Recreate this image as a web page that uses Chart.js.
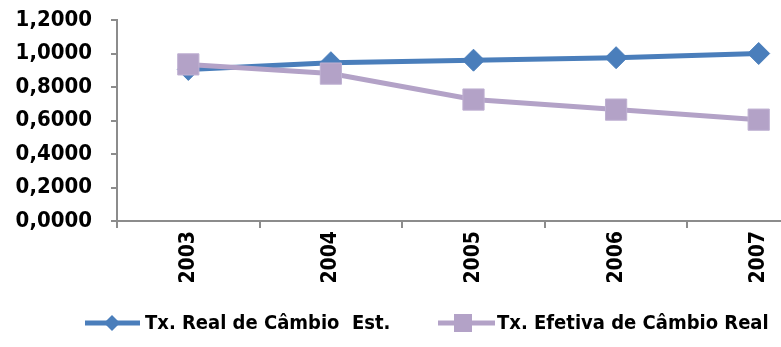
<!DOCTYPE html>
<html>
<head>
<meta charset="utf-8">
<script src="https://cdn.jsdelivr.net/npm/chart.js@4/dist/chart.umd.min.js"></script>
<style>
  html, body { margin: 0; padding: 0; background: #fff; overflow: hidden; }
  #wrap { width: 846px; height: 347px; }
</style>
</head>
<body>
<div id="wrap"><canvas id="c" width="846" height="347"></canvas></div>
<script>
// Exchange-rate indices, 2003–2007
const years = ['2003', '2004', '2005', '2006', '2007'];
const realRate = [0.905, 0.945, 0.960, 0.975, 1.000];
const effectiveRate = [0.935, 0.880, 0.725, 0.665, 0.605];
const seriesNames = ['Tx. Real de Câmbio  Est.', 'Tx. Efetiva de Câmbio Real'];

const BLUE = '#4a7ebb';
const LILAC = '#b3a2c7';
const AXIS = '#8c8c8c';
const FONT = '"DejaVu Sans Condensed", "DejaVu Sans", sans-serif';

// Bottom legend: a line sample with the marker in its middle, then the label
const bottomLegend = {
  id: 'bottomLegend',
  afterDraw(chart) {
    const ctx = chart.ctx;
    const y = 323;
    const items = [
      { x0: 85, x1: 140, mx: 112, color: BLUE, shape: 'diamond', text: seriesNames[0], tx: 145 },
      { x0: 438, x1: 495, mx: 463, color: LILAC, shape: 'square', text: seriesNames[1], tx: 497 }
    ];
    ctx.save();
    items.forEach(it => {
      ctx.strokeStyle = it.color;
      ctx.lineWidth = 5;
      ctx.beginPath();
      ctx.moveTo(it.x0, y);
      ctx.lineTo(it.x1, y);
      ctx.stroke();
      ctx.fillStyle = it.color;
      ctx.beginPath();
      if (it.shape === 'diamond') {
        ctx.moveTo(it.mx, y - 8);
        ctx.lineTo(it.mx + 8, y);
        ctx.lineTo(it.mx, y + 8);
        ctx.lineTo(it.mx - 8, y);
        ctx.closePath();
      } else {
        ctx.rect(it.mx - 9, y - 9, 18, 18);
      }
      ctx.fill();
      ctx.fillStyle = '#000';
      ctx.font = 'bold 20px ' + FONT;
      ctx.textBaseline = 'middle';
      ctx.textAlign = 'left';
      ctx.fillText(it.text, it.tx, y + 1);
    });
    ctx.restore();
  }
};

new Chart(document.getElementById('c'), {
  type: 'line',
  data: {
    labels: years,
    datasets: [
      {
        label: seriesNames[0],
        data: realRate,
        borderColor: BLUE,
        backgroundColor: BLUE,
        borderWidth: 5,
        tension: 0,
        pointStyle: 'rectRot',
        pointRadius: 11,
        pointBorderWidth: 1,
        pointBorderColor: BLUE,
        pointBackgroundColor: BLUE,
        order: 1
      },
      {
        label: seriesNames[1],
        data: effectiveRate,
        borderColor: LILAC,
        backgroundColor: LILAC,
        borderWidth: 5,
        tension: 0,
        pointStyle: 'rect',
        pointRadius: 15,
        pointBorderWidth: 1,
        pointBorderColor: '#bfb1d2',
        pointBackgroundColor: LILAC,
        order: 0
      }
    ]
  },
  options: {
    responsive: false,
    animation: false,
    layout: { padding: { top: 20, right: 8, left: 0, bottom: 0 } },
    plugins: {
      legend: { display: false },
      tooltip: { enabled: false }
    },
    scales: {
      x: {
        offset: true,
        afterFit: s => { s.height = 126; },
        grid: {
          offset: true,
          drawOnChartArea: false,
          tickLength: 7,
          color: AXIS,
          lineWidth: 2
        },
        border: { color: AXIS, width: 2 },
        ticks: {
          autoSkip: false,
          minRotation: 90,
          maxRotation: 90,
          padding: 3,
          color: '#000',
          font: { family: FONT, size: 21, weight: 'bold' }
        }
      },
      y: {
        min: 0,
        max: 1.2,
        afterFit: s => { s.width = 117; s.paddingTop = 10; s.paddingBottom = 0; },
        grid: {
          drawOnChartArea: false,
          tickLength: 6,
          color: AXIS,
          lineWidth: 2
        },
        border: { color: AXIS, width: 2 },
        ticks: {
          stepSize: 0.2,
          padding: 19,
          color: '#000',
          font: { family: FONT, size: 22, weight: 'bold' },
          callback: v => Number(v).toFixed(4).replace('.', ',')
        }
      }
    }
  },
  plugins: [bottomLegend]
});
</script>
</body>
</html>
